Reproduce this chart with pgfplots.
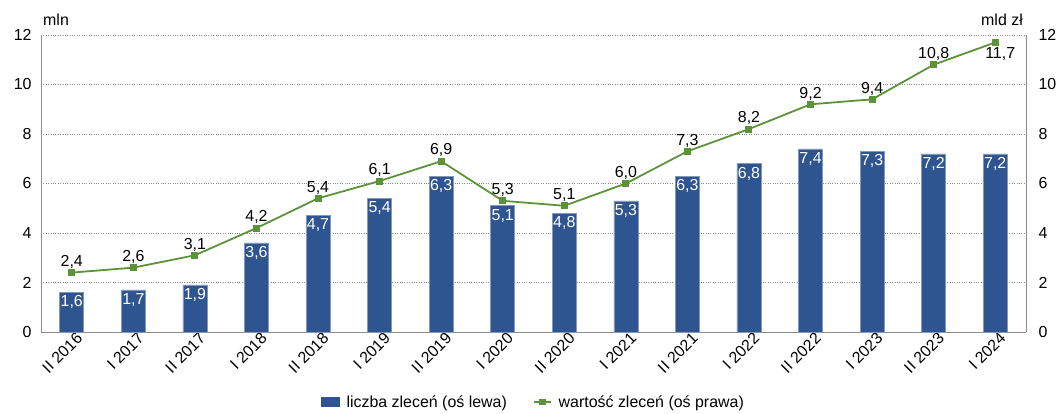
\documentclass[border=0pt]{standalone}
\usepackage{pgfplots}
\pgfplotsset{compat=1.18}
\usepackage{pgfplotstable}
\usepackage{fontspec}
\setmainfont{Liberation Sans}
\usetikzlibrary{calc}

\definecolor{barblue}{HTML}{2F5590}
\definecolor{linegreen}{HTML}{5C9339}
\definecolor{axisgray}{HTML}{8C8C8C}

\newcommand{\chartfont}{\fontsize{16}{19}\selectfont}

% półrocze, liczba zleceń (mln), wartość zleceń (mld zł)
\pgfplotstableread{
x  liczba  wartosc
0  1.6     2.4
1  1.7     2.6
2  1.9     3.1
3  3.6     4.2
4  4.7     5.4
5  5.4     6.1
6  6.3     6.9
7  5.1     5.3
8  4.8     5.1
9  5.3     6.0
10 6.3     7.3
11 6.8     8.2
12 7.4     9.2
13 7.3     9.4
14 7.2     10.8
15 7.2     11.7
}\dane

\pgfplotsset{
  common/.style={
    width=985bp, height=297bp, scale only axis,
    xmin=-0.5, xmax=15.5,
    ymin=0, ymax=12, ytick={0,2,...,12},
    font=\chartfont,
    tick label style={font=\chartfont},
    /pgf/number format/assume math mode=true,
    /pgf/number format/use comma,
    /pgf/number format/fixed,
    /pgf/number format/precision=1,
    /pgf/number format/fixed zerofill,
    major tick length=0pt,
    axis line style={axisgray, line width=0.8pt},
  },
  greenline/.style={linegreen, line width=1.8pt, mark=square*, mark size=2.6bp, mark options={solid}},
  valuelabels/.style={draw=none, mark=none, forget plot, nodes near coords,
    every node near coord/.append style={anchor=#1, text=black, inner sep=4bp, font=\chartfont}},
}

\begin{document}
\begin{tikzpicture}
\begin{axis}[common,
  axis y line*=left, axis x line*=bottom,
  ymajorgrids, grid style={axisgray, dotted, line width=0.6pt},
  yticklabel style={/pgf/number format/fixed zerofill=false, /pgf/number format/precision=0, xshift=-6bp},
  xtick=data,
  xticklabels={II 2016, I 2017, II 2017, I 2018, II 2018, I 2019, II 2019, I 2020, II 2020, I 2021, II 2021, I 2022, II 2022, I 2023, II 2023, I 2024},
  xticklabel style={rotate=45, anchor=east, inner sep=1bp, yshift=-8bp, xshift=4bp},
  ybar, bar width=24bp,
  nodes near coords,
  every node near coord/.append style={anchor=north, text=white, inner sep=3bp, font=\chartfont},
  clip=false,
]
\addplot[fill=barblue, draw=barblue!60!white, line width=0.6pt] table[x=x, y=liczba] {\dane};
\coordinate (bl) at (rel axis cs:0,0);
\node[anchor=south west, inner sep=0pt, font=\chartfont] at ($(rel axis cs:0,1)+(2bp,9bp)$) {mln};
\end{axis}

\begin{axis}[common,
  axis y line*=right, axis x line=none,
  yticklabel style={/pgf/number format/fixed zerofill=false, /pgf/number format/precision=0, xshift=9bp},
  clip=false,
  legend style={at={($(rel axis cs:0.5,0)+(0,-70bp)$)}, anchor=center, draw=none,
    legend columns=2, font=\chartfont, inner sep=0pt,
    /tikz/every odd column/.append style={column sep=5bp},
    /tikz/every even column/.append style={column sep=24bp}},
  legend cell align=left,
]
\addlegendimage{area legend, legend image code/.code={\fill[barblue] (0bp,-4.5bp) rectangle (18bp,4.5bp);}}
\addlegendentry{liczba zleceń (oś lewa)}
\addplot[greenline] table[x=x, y=wartosc] {\dane};
\addlegendentry{wartość zleceń (oś prawa)}
% etykiety wartości: nad punktami, ostatnia pod punktem
\addplot[valuelabels=south] table[x=x, y=wartosc, restrict x to domain=0:14] {\dane};
\addplot[valuelabels={north, xshift=5bp, yshift=-1bp}] table[x=x, y=wartosc, restrict x to domain=15:15] {\dane};
\node[anchor=south east, inner sep=0pt, font=\chartfont] at ($(rel axis cs:1,1)+(-3bp,9bp)$) {mld zł};
\end{axis}

\pgfresetboundingbox
\path[use as bounding box] ($(bl)+(-41bp,-82bp)$) rectangle ($(bl)+(1018bp,332bp)$);
\end{tikzpicture}
\end{document}
